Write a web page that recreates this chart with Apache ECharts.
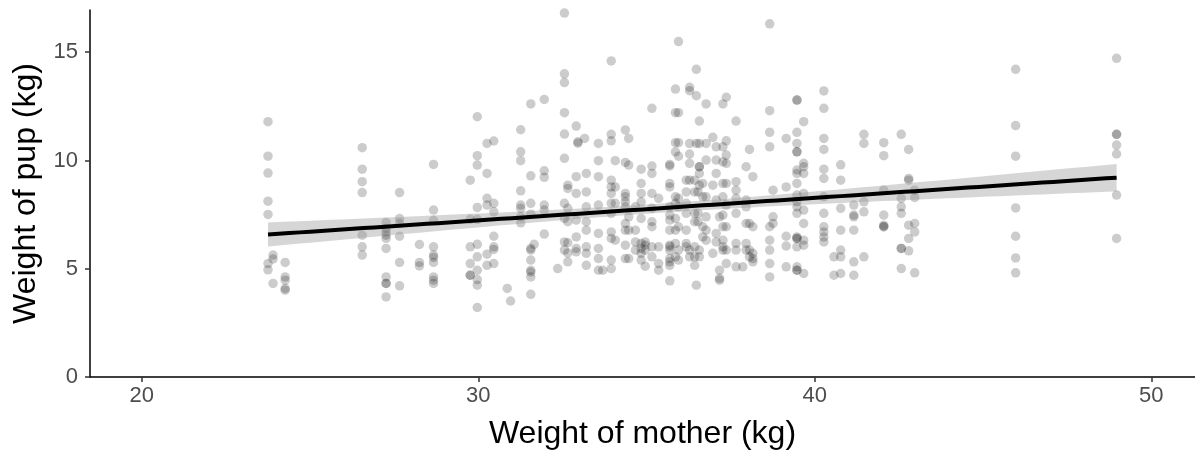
<!DOCTYPE html>
<html><head><meta charset="utf-8">
<script src="https://cdn.jsdelivr.net/npm/echarts@6/dist/echarts.min.js"></script>
<style>html,body{margin:0;padding:0;background:#fff}#c{width:1195px;height:451px}</style>
</head><body><div id="c"></div>
<script>
// Mother weights (kg) — one entry per column of points
const motherKg = [
  23.75, 23.9, 24.26, 26.55, 27.26, 27.66, 28.25, 28.67,
  29.76, 29.97, 30.26, 30.46, 30.86, 30.96, 31.26, 31.56, 31.66, 31.96, 32.36, 32.56, 32.66,
  32.91, 32.96, 33.16, 33.21, 33.57, 33.70, 33.95, 34.07, 34.37, 34.47, 34.67, 34.84, 34.96,
  35.16, 35.36, 35.69, 35.86, 35.95,
  36.18, 36.28, 36.43, 36.48, 36.53, 36.57, 36.67, 36.77, 36.97, 37.07, 37.17, 37.27, 37.37,
  37.66, 37.86, 37.96, 38.06, 38.16, 38.66, 38.76, 39.15,
  39.47, 39.67, 40.27, 40.57, 40.77, 41.16, 41.46, 42.05, 42.57, 42.79, 42.97, 45.97, 48.97
];
// Pup weights (kg) for each mother weight above
const pupKg = [
  [11.79, 10.20, 9.42, 8.12, 7.51, 5.24, 4.95],
  [5.63, 5.45, 4.32],
  [5.29, 4.62, 4.47, 4.09, 4.01],
  [10.59, 9.60, 9.02, 8.52, 6.55, 6.01, 5.63],
  [7.14, 6.86, 6.70, 6.55, 6.40, 5.94, 4.62, 4.32, 4.32, 3.70],
  [8.52, 7.32, 7.09, 6.50, 5.29, 4.21],
  [6.12, 5.29, 5.13],
  [9.82, 7.71, 7.24, 6.01, 5.63, 5.52, 5.29, 4.62, 4.47, 4.32],
  [9.09, 7.28, 6.01, 5.24, 4.70, 4.70],
  [12.02, 10.22, 9.79, 7.83, 7.28, 6.13, 5.55, 4.93, 4.50, 4.24, 3.21],
  [10.79, 9.40, 8.25, 7.94, 5.67, 5.16],
  [10.90, 8.02, 7.63, 6.50, 6.01, 5.89, 5.24],
  [4.09],
  [3.51],
  [11.42, 10.40, 9.99, 8.60, 7.94, 7.79, 7.40, 7.12],
  [12.61, 9.29, 8.02, 7.52, 5.94, 5.86, 5.40, 4.93, 4.85, 4.62, 3.82],
  [6.13],
  [12.82, 9.52, 9.22, 7.94, 7.71, 6.60],
  [5.01],
  [16.81, 14.0, 13.6, 12.21, 11.22, 10.10, 8.02, 7.32, 6.24, 5.86],
  [8.86, 8.71, 7.79, 7.17, 6.20, 5.73, 5.32],
  [11.59, 9.25, 8.48, 7.25, 6.47, 5.94, 5.78],
  [10.86, 10.80],
  [11.02],
  [9.40, 8.55, 7.86, 7.17, 6.78, 6.01, 5.71, 5.16],
  [10.79, 9.99, 9.25, 7.94, 6.63, 5.94, 5.47, 4.93],
  [4.93],
  [14.60, 11.21, 10.91, 9.09, 8.78, 8.48, 8.02, 7.56, 6.70, 6.40, 5.40, 5.01],
  [9.99, 8.78, 8.02, 6.32],
  [11.41, 9.91, 8.48, 8.32, 8.09, 7.86, 7.09, 6.78, 6.09, 5.47],
  [11.02, 9.79, 7.40, 6.78, 5.47],
  [7.86, 6.78, 6.24, 5.86],
  [9.60, 8.94, 8.48, 8.09, 7.32, 6.17, 5.94, 5.71, 5.40],
  [6.24, 6.09, 5.86, 5.12],
  [12.41, 9.74, 9.40, 8.48, 7.79, 7.17, 6.94, 6.01, 5.55],
  [8.25, 6.01, 5.24, 4.93],
  [9.82, 9.75, 8.94, 8.78, 7.86, 7.48, 7.25, 6.78, 6.09, 6.01, 5.86, 5.47, 5.32, 5.16, 4.44],
  [13.30, 12.21, 10.82, 10.40, 8.32, 8.02, 7.32, 6.78, 6.17, 5.55],
  [15.49, 12.21, 10.82, 10.20, 8.25, 7.86, 6.94, 5.86, 5.40],
  [9.09, 8.55, 8.02, 7.56, 6.78, 6.17, 6.01],
  [13.38, 13.22, 10.79, 10.30, 9.87, 9.09, 5.86, 5.55],
  [9.09, 8.55, 7.56, 7.17, 6.01, 5.55, 5.16],
  [14.21, 12.99, 10.79, 4.24],
  [8.55, 7.56, 7.17],
  [11.82, 10.79, 9.71, 9.71, 9.40, 8.86, 5.86, 5.55],
  [8.94, 8.32, 6.94, 6.47],
  [12.61, 10.79, 10.02, 8.32, 7.40, 6.78, 6.32],
  [11.07, 8.86, 5.71],
  [10.63, 10.02, 9.40, 8.17, 6.63, 6.24],
  [7.40, 4.93, 4.56, 4.47],
  [12.61, 10.63, 9.94, 8.94, 8.32, 7.48, 6.94, 6.32, 6.01, 5.86],
  [12.92, 10.91, 10.25, 9.87, 8.94, 7.94, 6.94, 5.86, 5.24],
  [11.82, 9.02, 8.63, 8.25, 7.56, 6.17, 5.86, 5.09],
  [5.09],
  [9.71, 8.17, 7.86, 7.09, 6.17, 5.86],
  [10.51, 7.09, 5.86, 5.55],
  [9.25, 6.94, 5.71, 5.47, 5.32],
  [16.31, 12.30, 11.30, 10.63, 6.94, 6.32, 5.86, 5.24, 4.62],
  [8.63, 7.40, 7.09],
  [11.02, 8.78, 6.50, 6.05, 5.09],
  [12.79, 12.79, 11.30, 10.79, 10.40, 10.40, 9.56, 9.40, 8.94, 8.40, 8.09, 7.86, 7.56, 6.47, 6.40, 6.40, 6.01, 5.09, 4.93, 4.93],
  [11.79, 9.87, 9.71, 9.40, 8.48, 7.71, 7.09, 6.32, 6.09, 4.78],
  [13.21, 12.41, 11.02, 10.51, 9.60, 9.17, 8.32, 7.56, 6.94, 6.70, 6.47, 6.24],
  [5.55, 4.70],
  [9.80, 9.09, 7.79, 6.78, 5.86, 5.55, 4.78],
  [7.94, 7.48, 7.40, 6.78, 5.32, 4.70],
  [11.21, 10.79, 8.09, 7.63, 5.55],
  [10.82, 10.22, 8.63, 7.48, 7.01, 6.94, 6.94],
  [11.21, 8.25, 7.86, 7.56, 5.94, 5.94, 5.01],
  [10.51, 9.17, 9.09, 7.01, 6.40, 5.83],
  [8.63, 8.29, 7.09, 6.70, 4.81],
  [14.21, 11.61, 10.20, 7.81, 6.50, 5.50, 4.81],
  [14.72, 11.21, 11.21, 10.71, 10.30, 8.40, 6.40]
];
const xTicks = [20, 30, 40, 50];
const yTicks = [0, 5, 10, 15];
const xTitle = 'Weight of mother (kg)';
const yTitle = 'Weight of pup (kg)';

// Flatten observations
const points = [];
motherKg.forEach((m, i) => pupKg[i].forEach(p => points.push([m, p])));

// Ordinary least squares fit with 95% confidence band
const n = points.length;
let mx = 0, my = 0;
points.forEach(p => { mx += p[0]; my += p[1]; });
mx /= n; my /= n;
let sxx = 0, sxy = 0;
points.forEach(p => { sxx += (p[0] - mx) ** 2; sxy += (p[0] - mx) * (p[1] - my); });
const slope = sxy / sxx;
const icpt = my - slope * mx;
let sse = 0;
points.forEach(p => { sse += (p[1] - (icpt + slope * p[0])) ** 2; });
const s = Math.sqrt(sse / (n - 2));
const tq = 1.965;
const xmin = Math.min(...motherKg), xmax = Math.max(...motherKg);
const fit = [], upper = [], lower = [];
for (let k = 0; k <= 80; k++) {
  const x = xmin + (xmax - xmin) * k / 80;
  const yh = icpt + slope * x;
  const se = s * Math.sqrt(1 / n + (x - mx) ** 2 / sxx);
  fit.push([x, yh]);
  upper.push([x, yh + tq * se]);
  lower.push([x, yh - tq * se]);
}

const FONT = '"Liberation Sans", Arial, sans-serif';
const chart = echarts.init(document.getElementById('c'), null, { renderer: 'canvas' });
chart.setOption({
  animation: false,
  backgroundColor: '#ffffff',
  grid: { left: 90, right: 0, top: 10, bottom: 74, containLabel: false, outerBoundsMode: 'none' },
  xAxis: {
    type: 'value', min: 18.46, max: 51.3,
    name: xTitle, nameLocation: 'middle', nameGap: 41,
    nameTextStyle: { fontSize: 32, color: '#000', fontFamily: FONT },
    axisLine: { show: true, onZero: false, lineStyle: { color: '#000', width: 1.5 } },
    axisTick: { show: true, length: 5, customValues: xTicks, lineStyle: { color: '#333', width: 1.5 } },
    axisLabel: { customValues: xTicks, fontSize: 22, color: '#4d4d4d', margin: 8, fontFamily: FONT },
    splitLine: { show: false }
  },
  yAxis: {
    type: 'value', min: 0, max: 16.95,
    name: yTitle, nameLocation: 'middle', nameGap: 45,
    nameTextStyle: { fontSize: 32, color: '#000', fontFamily: FONT },
    axisLine: { show: true, onZero: false, lineStyle: { color: '#000', width: 1.5 } },
    axisTick: { show: true, length: 5, customValues: yTicks, lineStyle: { color: '#333', width: 1.5 } },
    axisLabel: { customValues: yTicks, fontSize: 22, color: '#4d4d4d', margin: 12, fontFamily: FONT },
    splitLine: { show: false }
  },
  series: [
    {
      type: 'scatter', data: points, symbolSize: 9.5, z: 2,
      itemStyle: { color: 'rgba(0,0,0,0.25)', borderWidth: 0 },
      emphasis: { disabled: true }
    },
    {
      type: 'custom', z: 3, data: [[xmin, icpt + slope * xmin]],
      renderItem: function (params, api) {
        const pts = upper.map(p => api.coord(p)).concat(lower.slice().reverse().map(p => api.coord(p)));
        return { type: 'polygon', shape: { points: pts }, style: { fill: 'rgba(153,153,153,0.4)' } };
      },
      silent: true
    },
    {
      type: 'line', data: fit, showSymbol: false, z: 4,
      lineStyle: { color: '#000', width: 4 }, silent: true
    }
  ]
});
</script></body></html>
